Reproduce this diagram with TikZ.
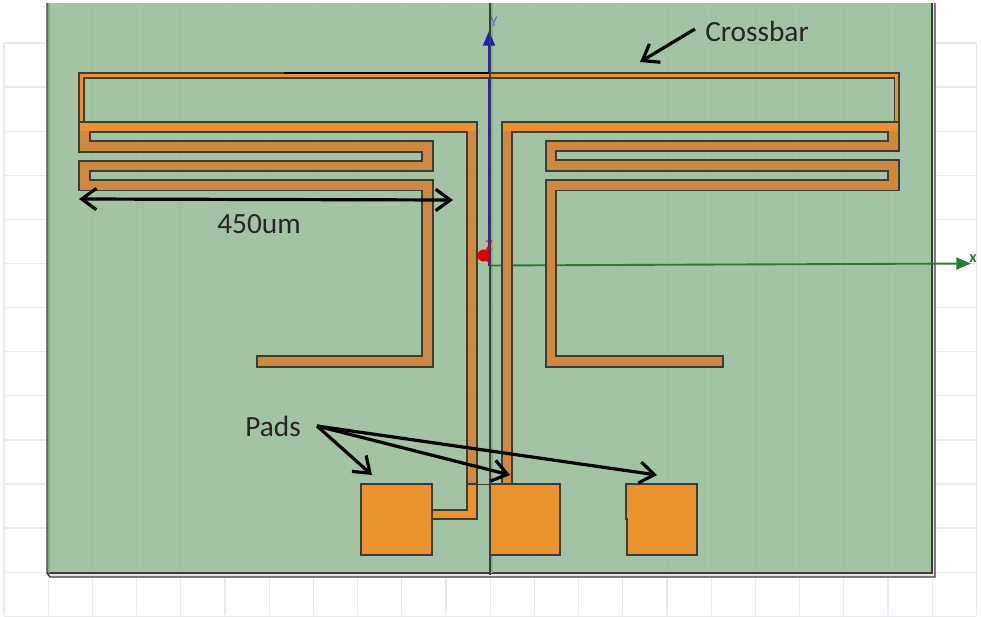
\documentclass[tikz,border=0pt]{standalone}
\usepackage{fontspec}
\setmainfont{Carlito}
\usetikzlibrary{arrows.meta}
\definecolor{boardgreen}{RGB}{162,196,165}
\definecolor{boardline}{RGB}{157,192,160}
\definecolor{tracedark}{RGB}{207,136,62}
\definecolor{tracebright}{RGB}{236,145,44}
\definecolor{padorange}{RGB}{233,146,46}
\definecolor{edgegrey}{RGB}{60,60,56}
\definecolor{gridgrey}{RGB}{234,234,238}
\definecolor{axisgreen}{RGB}{40,125,50}
\definecolor{axisblue}{RGB}{30,30,190}
\tikzset{
  trace/.style={fill=tracedark,draw=edgegrey,line width=0.8pt,line join=miter},
  pad/.style={fill=padorange,draw=edgegrey,line width=0.8pt},
  callout/.style={line width=2.4pt,black,-{Straight Barb[length=11pt,width=16pt,line width=2.4pt]}},
  spanarrow/.style={line width=2.4pt,black,{Straight Barb[length=11pt,width=16pt,line width=2.4pt]}-{Straight Barb[length=11pt,width=16pt,line width=2.4pt]}},
  caption/.style={font=\fontsize{22}{24}\selectfont,text=black!85,inner sep=0pt},
  axislabel/.style={font=\fontsize{11}{12}\selectfont,inner sep=0pt},
}
\begin{document}
\begin{tikzpicture}[x=0.75pt,y=-0.75pt]
\useasboundingbox (0,0) rectangle (981,617);
\fill[white] (0,0) rectangle (981,617);

% background grid
\foreach \k in {0,...,22}
  \draw[gridgrey,line width=1pt] ({4+44.2*\k},43) -- ({4+44.2*\k},615);
\foreach \k in {0,...,13}
  \draw[gridgrey,line width=1pt] (4,{43+44.1*\k}) -- (976,{43+44.1*\k});

% board
\fill[boardgreen] (47,3) rectangle (932,573);
\foreach \k in {1,...,20}
  \draw[boardline,line width=0.6pt] ({4+44.2*\k},3) -- ({4+44.2*\k},573);
\foreach \k in {0,...,11}
  \draw[boardline,line width=0.6pt] (47,{43+44.1*\k}) -- (932,{43+44.1*\k});
\fill[black!10] (932,3) rectangle (935,577);
\fill[black!10] (49,574) rectangle (935,577);
\draw[edgegrey,line width=1pt] (47,3) -- (47,573) -- (50,577) -- (935,577) -- (935,3);
\draw[edgegrey,line width=1pt] (47,573) -- (932,573) -- (932,3);
\fill[axisgreen!35!boardgreen] (48,3) rectangle (50,573);
\fill[axisgreen!25!boardgreen] (490.5,3) rectangle (493,573);

% axes
\coordinate (origin) at (489,265.5);
\coordinate (ytip) at (489,31);
\coordinate (xtip) at (971,263.5);
\draw[axisgreen,line width=1.4pt,-{Triangle[length=11pt,width=9pt]}] (origin) -- (xtip);
\draw[axisblue,line width=1.4pt,-{Triangle[length=11pt,width=9pt]}] (origin) -- (ytip);
\node[axislabel,text=axisblue!70!white] (ylabel) at (494,22) {Y};
\node[axislabel,text=axisgreen,font=\fontsize{12}{12}\bfseries\selectfont] (xlabel) at (973,259) {x};

% crossbar
\draw[fill=tracebright,draw=edgegrey,line width=0.8pt] (79,73) -- (899,73) -- (899,122) -- (894.5,122) -- (894.5,78) -- (84,78) -- (84,122) -- (79,122) -- cycle;
\coordinate (barcut) at (284,73);
\coordinate (barmid) at (490,73);
\draw[black,line width=1.4pt] (barcut) -- (barmid);

% left meander
\draw[trace] (79,122) -- (477,122) -- (477,484) -- (467,484) -- (467,132) -- (90,132) -- (90,141) -- (433,141) -- (433,171) -- (90,171) -- (90,180) -- (433,180) -- (433,367) -- (257,367) -- (257,356) -- (422,356) -- (422,190.5) -- (79,190.5) -- (79,161) -- (422,161) -- (422,152) -- (79,152) -- cycle;
\fill[tracebright] (80,123) rectangle (476,131);
% right meander
\draw[trace] (502,122) -- (899,122) -- (899,151) -- (556,151) -- (556,160) -- (899,160) -- (899,190.5) -- (556,190.5) -- (556,356) -- (723,356) -- (723,367) -- (546,367) -- (546,180) -- (888,180) -- (888,171) -- (546,171) -- (546,141) -- (888,141) -- (888,132) -- (512,132) -- (512,484) -- (502,484) -- cycle;
\fill[tracebright] (503,123) rectangle (898,131);

% feed to the left pad
\draw[pad] (467,484) -- (477,484) -- (477,519) -- (432,519) -- (432,510) -- (467,510) -- cycle;
\coordinate (feedcut) at (467,484);
\coordinate (feedend) at (490,484);
\draw[edgegrey,line width=0.7pt] (feedcut) -- (feedend);

% pads
\draw[pad] (361,484) rectangle (432,555);
\draw[pad] (490,484) rectangle (560,555);
\draw[pad] (626,484) -- (697,484) -- (697,555) -- (627,555) -- (627,519) -- (626,519) -- cycle;

% centre line
\coordinate (centretop) at (490,3);
\coordinate (centrebot) at (490,575);
\draw[edgegrey,line width=1pt] (centretop) -- (centrebot);

% red z marker
\coordinate (zmark) at (483.5,255.5);
\fill[red!90!black] (zmark) circle (6);
\draw[red!90!black,line width=1pt] (484,258) -- (490,263);
\draw[red!90!black,line width=1pt] (484,252) -- (490,248);
\node[axislabel,text=red!90!black] (zlabel) at (489,246) {Z};

% labels and arrows
\node[caption] (crossbar) at (757,31) {Crossbar};
\coordinate (crossfrom) at (695,29);
\coordinate (crossto) at (640,62);
\draw[callout] (crossfrom) -- (crossto);

\coordinate (spanleft) at (79,199);
\coordinate (spanright) at (453,200);
\draw[spanarrow] (spanleft) -- (spanright);
\node[caption] (width) at (259,224) {450um};

\node[caption] (pads) at (273,426) {Pads};
\coordinate (padsfrom) at (317,426);
\coordinate (padsA) at (372,475);
\coordinate (padsB) at (510,475);
\coordinate (padsC) at (657,475);
\draw[callout] (padsfrom) -- (padsA);
\draw[callout] (padsfrom) -- (padsB);
\draw[callout] (padsfrom) -- (padsC);
\end{tikzpicture}
\end{document}
